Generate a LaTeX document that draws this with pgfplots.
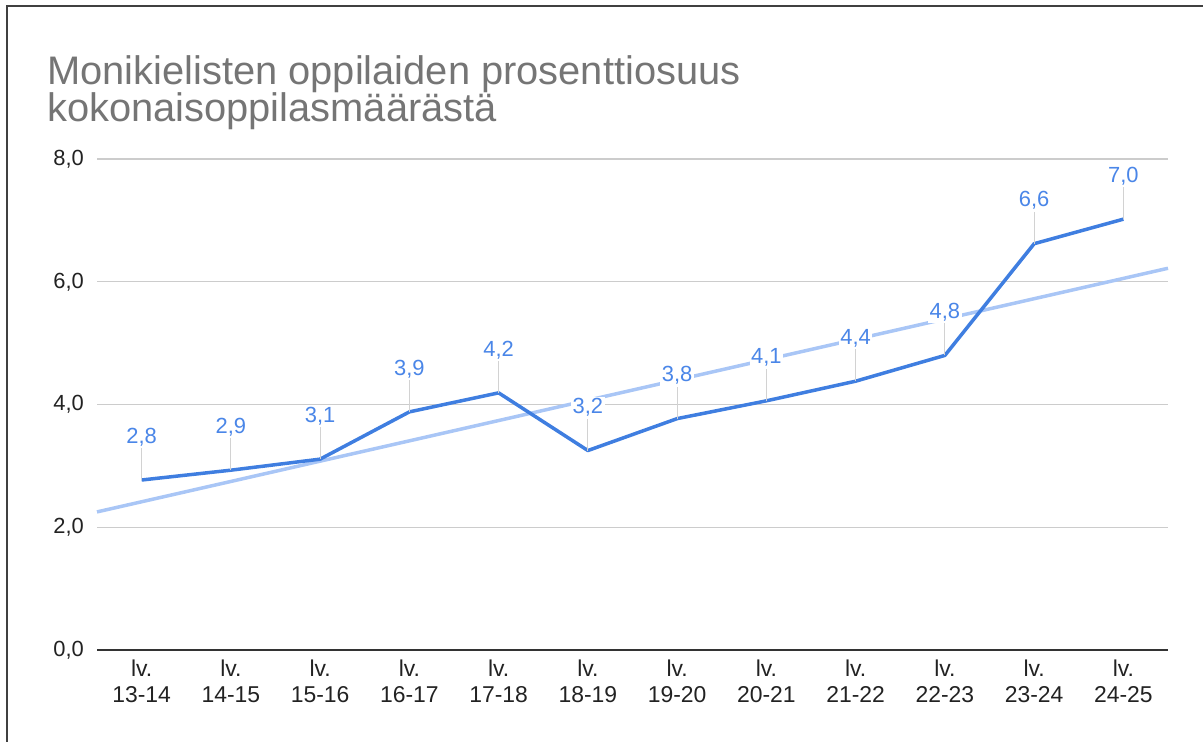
\documentclass[border=0pt]{standalone}
\usepackage{pgfplots}
\usepackage{pgfplotstable}
\pgfplotsset{compat=1.18}
\usepackage{fontspec}
\setmainfont{Liberation Sans}
\definecolor{mainblue}{HTML}{3F7EE0}
\definecolor{lblblue}{HTML}{4A86E8}
\definecolor{trendblue}{HTML}{A9C6F6}
\definecolor{titlegray}{HTML}{757575}
\definecolor{gridgray}{HTML}{CCCCCC}
\definecolor{ticktext}{HTML}{222222}
\pgfplotstableread{
x y lab
0 2.77 2,8
1 2.93 2,9
2 3.11 3,1
3 3.88 3,9
4 4.19 4,2
5 3.25 3,2
6 3.77 3,8
7 4.06 4,1
8 4.38 4,4
9 4.80 4,8
10 6.62 6,6
11 7.02 7,0
}\datatable
\pgfplotstableread{
x y
-0.5 2.25
11.5 6.22
}\trendtable
\begin{document}
\begin{tikzpicture}[x=1bp,y=1bp]
\useasboundingbox (0,0) rectangle (1203,-742);
\draw[line width=2.5bp, color=black!75] (7,-742) -- (7,-6) -- (1203,-6);
\node[anchor=base west, text=titlegray, font=\fontsize{40}{40}\selectfont, inner sep=0] at (47,-85) {Monikielisten oppilaiden prosenttiosuus};
\node[anchor=base west, text=titlegray, font=\fontsize{40}{40}\selectfont, inner sep=0] at (47,-121) {kokonaisoppilasmäärästä};
\begin{axis}[
  at={(97bp,-650bp)}, anchor=south west,
  scale only axis, width=1071bp, height=491bp,
  xmin=-0.5, xmax=11.5, ymin=0, ymax=8,
  clip=false,
  axis line style={draw=none},
  ytick={0,2,4,6,8},
  xtick={0,...,11},
  xticklabels={{lv.\\13-14},{lv.\\14-15},{lv.\\15-16},{lv.\\16-17},{lv.\\17-18},{lv.\\18-19},{lv.\\19-20},{lv.\\20-21},{lv.\\21-22},{lv.\\22-23},{lv.\\23-24},{lv.\\24-25}},
  major tick length=0pt,
  ymajorgrids, grid style={gridgray, line width=1.2bp},
  yticklabel style={font=\fontsize{22}{22}\selectfont, text=ticktext, inner sep=0pt, xshift=-13bp, anchor=east},
  xticklabel style={font=\fontsize{23}{26}\selectfont, text=ticktext, inner sep=0pt, yshift=-10bp, anchor=north, align=center},
  /pgf/number format/.cd, use comma, fixed, fixed zerofill, precision=1, assume math mode=true,
]
\draw[color=black!80, line width=1.5bp] (axis cs:-0.5,0) -- (axis cs:11.5,0);
\addplot[trendblue, line width=3.5bp, no markers] table[x=x,y=y] {\trendtable};
\addplot[mainblue, line width=3.5bp, no markers, line join=round,
  error bars/.cd, y dir=plus, y fixed=0.52, error mark=none,
  error bar style={color=gray!35, line width=0.8bp}]
  table[x=x,y=y] {\datatable};
\addplot[draw=none, no markers,
  point meta=explicit symbolic,
  nodes near coords,
  nodes near coords style={anchor=center, yshift=43bp, fill=white, inner sep=1.5bp, text=lblblue, font=\fontsize{22}{22}\selectfont}]
  table[x=x,y=y,meta=lab] {\datatable};
\end{axis}
\end{tikzpicture}
\end{document}
